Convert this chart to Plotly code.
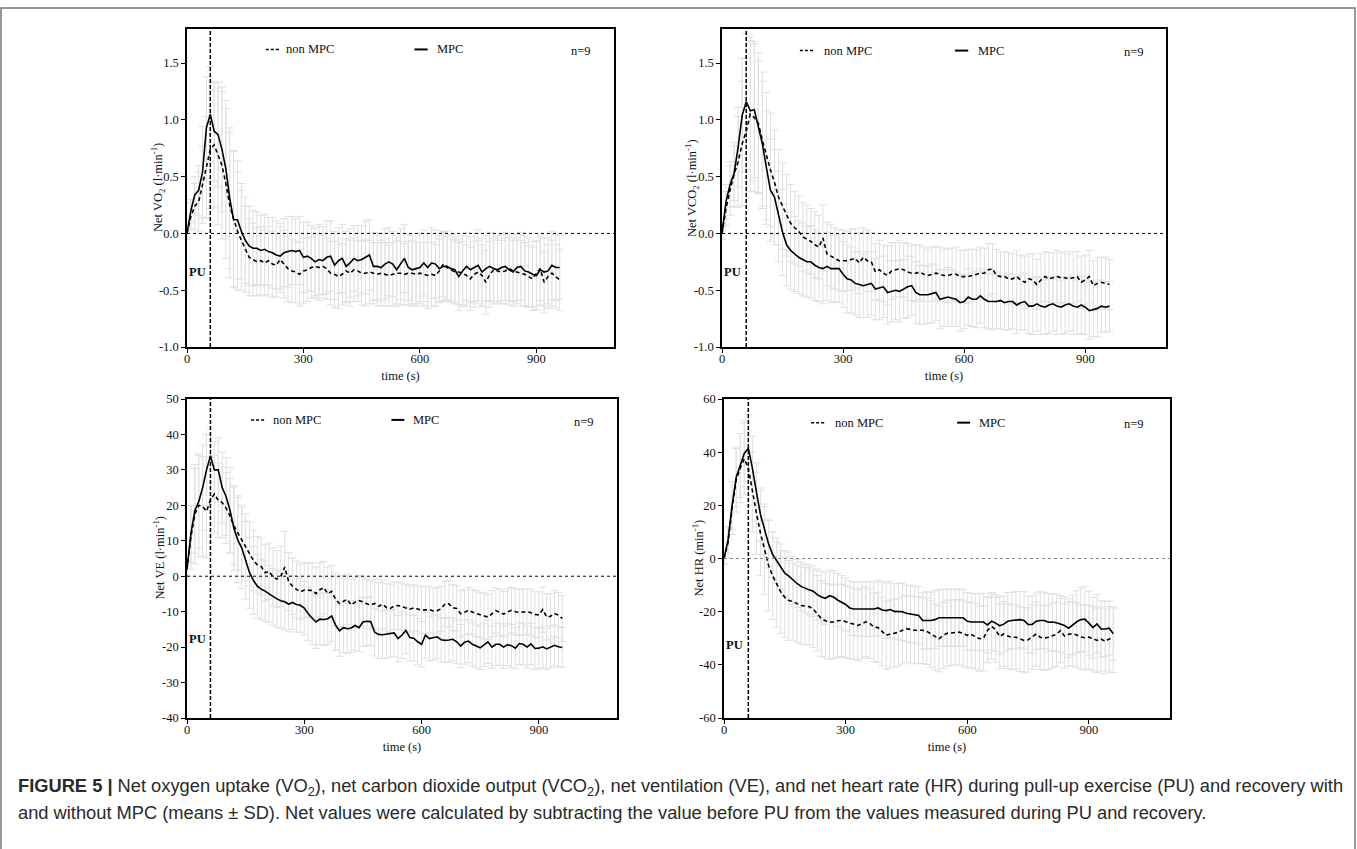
import plotly.graph_objects as go

# ---------------- data ----------------
time_s = list(range(0, 961, 10))

vo2_mpc = [0.00,0.20,0.34,0.38,0.54,0.93,1.05,0.90,0.87,0.74,
           0.57,0.31,0.12,0.12,0.02,-0.06,-0.11,-0.13,-0.13,-0.15,
           -0.14,-0.16,-0.17,-0.19,-0.20,-0.17,-0.16,-0.15,-0.16,-0.15,
           -0.21,-0.20,-0.22,-0.25,-0.23,-0.24,-0.21,-0.20,-0.28,-0.24,
           -0.22,-0.29,-0.26,-0.22,-0.24,-0.23,-0.21,-0.19,-0.29,-0.29,
           -0.30,-0.27,-0.25,-0.27,-0.32,-0.27,-0.22,-0.30,-0.32,-0.31,
           -0.30,-0.26,-0.30,-0.26,-0.27,-0.31,-0.29,-0.29,-0.31,-0.32,
           -0.38,-0.33,-0.29,-0.32,-0.30,-0.28,-0.34,-0.31,-0.29,-0.31,
           -0.32,-0.30,-0.29,-0.32,-0.34,-0.30,-0.29,-0.33,-0.34,-0.36,
           -0.37,-0.32,-0.34,-0.33,-0.28,-0.30,-0.30]
vo2_non = [0.00,0.15,0.24,0.28,0.43,0.58,0.74,0.78,0.68,0.60,
           0.44,0.25,0.13,0.02,-0.06,-0.14,-0.21,-0.23,-0.25,-0.24,
           -0.26,-0.24,-0.27,-0.28,-0.23,-0.27,-0.31,-0.33,-0.34,-0.36,
           -0.33,-0.32,-0.30,-0.29,-0.30,-0.29,-0.31,-0.35,-0.36,-0.38,
           -0.36,-0.33,-0.35,-0.32,-0.33,-0.35,-0.35,-0.34,-0.35,-0.36,
           -0.35,-0.36,-0.37,-0.36,-0.35,-0.35,-0.36,-0.35,-0.35,-0.36,
           -0.35,-0.36,-0.37,-0.36,-0.37,-0.33,-0.27,-0.30,-0.32,-0.34,
           -0.34,-0.35,-0.37,-0.40,-0.36,-0.34,-0.37,-0.43,-0.36,-0.32,
           -0.33,-0.34,-0.33,-0.31,-0.33,-0.34,-0.35,-0.36,-0.38,-0.40,
           -0.35,-0.31,-0.43,-0.38,-0.35,-0.38,-0.41]
vo2_mpc_sd = [0.04,0.10,0.16,0.22,0.40,0.45,0.42,0.44,0.46,0.55,
              0.60,0.62,0.60,0.52,0.42,0.38,0.35,0.33,0.32,0.31,
              0.31,0.30,0.31,0.30,0.29,0.30,0.31,0.30,0.29,0.30,
              0.31,0.30,0.29,0.30,0.31,0.30,0.32,0.31,0.30,0.29,
              0.30,0.31,0.30,0.29,0.31,0.30,0.32,0.31,0.30,0.29,
              0.30,0.31,0.30,0.29,0.30,0.31,0.30,0.29,0.30,0.31,
              0.30,0.29,0.30,0.31,0.30,0.29,0.30,0.31,0.30,0.29,
              0.30,0.31,0.30,0.29,0.30,0.31,0.30,0.29,0.30,0.31,
              0.30,0.29,0.30,0.31,0.30,0.29,0.30,0.31,0.30,0.29,
              0.30,0.31,0.30,0.29,0.30,0.29,0.28]
vo2_non_sd = [0.05,0.12,0.20,0.26,0.34,0.45,0.52,0.55,0.60,0.65,
              0.66,0.64,0.60,0.52,0.44,0.38,0.34,0.32,0.30,0.30,
              0.29,0.30,0.29,0.28,0.29,0.30,0.29,0.28,0.27,0.28,
              0.29,0.28,0.27,0.28,0.29,0.28,0.27,0.28,0.29,0.28,
              0.27,0.28,0.29,0.28,0.27,0.28,0.29,0.28,0.27,0.28,
              0.29,0.28,0.27,0.28,0.29,0.28,0.27,0.28,0.29,0.28,
              0.27,0.28,0.29,0.28,0.27,0.28,0.29,0.28,0.27,0.28,
              0.29,0.28,0.27,0.28,0.29,0.28,0.27,0.28,0.29,0.28,
              0.27,0.28,0.29,0.28,0.27,0.28,0.29,0.28,0.27,0.28,
              0.29,0.28,0.27,0.28,0.29,0.28,0.27]

vco2_mpc = [0.00,0.28,0.43,0.53,0.76,1.04,1.16,1.08,1.09,0.94,
            0.79,0.58,0.38,0.32,0.15,0.01,-0.10,-0.15,-0.18,-0.21,
            -0.23,-0.25,-0.25,-0.28,-0.30,-0.31,-0.29,-0.31,-0.31,-0.31,
            -0.36,-0.40,-0.41,-0.44,-0.45,-0.46,-0.45,-0.44,-0.49,-0.48,
            -0.47,-0.52,-0.51,-0.50,-0.51,-0.49,-0.47,-0.46,-0.52,-0.54,
            -0.54,-0.54,-0.53,-0.52,-0.58,-0.57,-0.56,-0.57,-0.58,-0.61,
            -0.60,-0.56,-0.58,-0.58,-0.55,-0.58,-0.60,-0.60,-0.60,-0.59,
            -0.61,-0.60,-0.60,-0.63,-0.61,-0.60,-0.64,-0.64,-0.62,-0.64,
            -0.65,-0.63,-0.62,-0.64,-0.65,-0.63,-0.62,-0.64,-0.65,-0.63,
            -0.65,-0.68,-0.67,-0.66,-0.64,-0.65,-0.64]
vco2_non = [0.00,0.22,0.38,0.52,0.63,0.79,0.90,1.05,1.02,0.97,
            0.82,0.68,0.56,0.45,0.32,0.24,0.16,0.09,0.05,0.02,
            -0.03,-0.05,-0.07,-0.10,-0.12,-0.04,-0.18,-0.20,-0.22,-0.24,
            -0.24,-0.24,-0.23,-0.22,-0.26,-0.21,-0.24,-0.25,-0.34,-0.32,
            -0.35,-0.37,-0.33,-0.32,-0.31,-0.32,-0.34,-0.35,-0.35,-0.34,
            -0.36,-0.37,-0.36,-0.35,-0.36,-0.37,-0.37,-0.36,-0.36,-0.38,
            -0.38,-0.38,-0.37,-0.36,-0.35,-0.35,-0.32,-0.31,-0.37,-0.38,
            -0.38,-0.40,-0.40,-0.38,-0.41,-0.43,-0.40,-0.41,-0.45,-0.41,
            -0.38,-0.40,-0.39,-0.38,-0.39,-0.39,-0.40,-0.39,-0.38,-0.43,
            -0.41,-0.38,-0.46,-0.44,-0.43,-0.44,-0.45]
vco2_mpc_sd = [0.05,0.15,0.20,0.24,0.35,0.50,0.60,0.62,0.60,0.58,
               0.55,0.50,0.45,0.42,0.40,0.38,0.36,0.34,0.33,0.32,
               0.32,0.31,0.32,0.31,0.30,0.31,0.30,0.30,0.29,0.30,
               0.29,0.30,0.29,0.28,0.29,0.28,0.29,0.28,0.27,0.28,
               0.27,0.28,0.27,0.26,0.27,0.26,0.27,0.26,0.27,0.26,
               0.26,0.25,0.26,0.25,0.26,0.25,0.26,0.25,0.24,0.25,
               0.24,0.25,0.24,0.25,0.24,0.25,0.24,0.25,0.24,0.25,
               0.24,0.25,0.24,0.25,0.24,0.25,0.24,0.25,0.24,0.25,
               0.24,0.25,0.24,0.25,0.24,0.25,0.24,0.25,0.24,0.25,
               0.24,0.25,0.24,0.25,0.23,0.22,0.22]
vco2_non_sd = [0.05,0.15,0.22,0.28,0.40,0.55,0.65,0.68,0.65,0.62,
               0.60,0.56,0.50,0.46,0.42,0.38,0.36,0.34,0.32,0.31,
               0.30,0.30,0.29,0.29,0.28,0.29,0.28,0.28,0.27,0.27,
               0.27,0.26,0.27,0.26,0.27,0.26,0.27,0.26,0.25,0.26,
               0.25,0.26,0.25,0.24,0.25,0.24,0.25,0.24,0.25,0.24,
               0.24,0.23,0.24,0.23,0.24,0.23,0.24,0.23,0.24,0.23,
               0.23,0.24,0.23,0.22,0.23,0.22,0.23,0.22,0.23,0.22,
               0.22,0.23,0.22,0.23,0.22,0.23,0.22,0.23,0.22,0.23,
               0.22,0.23,0.22,0.23,0.22,0.23,0.22,0.23,0.22,0.23,
               0.22,0.23,0.22,0.23,0.22,0.23,0.22]

ve_mpc = [2.0,12.0,18.5,21.0,25.0,30.0,34.0,30.0,30.0,25.0,
          22.5,18.6,13.5,10.2,8.0,4.5,1.0,-1.2,-2.8,-3.7,
          -4.2,-5.0,-5.8,-6.4,-6.9,-7.2,-7.9,-7.4,-8.0,-8.2,
          -9.0,-10.6,-11.8,-12.9,-12.1,-12.2,-12.0,-11.2,-13.8,-15.4,
          -14.5,-14.8,-14.6,-13.9,-14.5,-12.9,-12.7,-12.8,-15.8,-16.4,
          -16.5,-16.3,-16.2,-16.0,-17.6,-16.6,-15.3,-17.3,-17.5,-18.5,
          -19.2,-16.6,-17.6,-17.3,-17.1,-17.9,-18.1,-18.0,-17.8,-18.5,
          -19.7,-18.6,-18.3,-19.2,-19.8,-20.2,-19.4,-18.5,-20.0,-19.2,
          -19.2,-20.0,-19.3,-19.6,-20.3,-19.0,-19.2,-20.0,-19.1,-20.4,
          -20.3,-19.9,-20.5,-20.0,-19.5,-19.9,-20.1]
ve_non = [2.0,11.0,17.5,20.0,19.7,18.3,21.5,23.2,21.4,20.8,
          19.2,17.0,14.2,12.2,10.0,8.2,6.3,4.4,3.2,2.7,
          1.0,1.4,-0.2,-0.8,0.0,2.6,-1.5,-2.8,-3.7,-4.4,
          -3.9,-3.9,-4.0,-4.9,-3.8,-3.2,-4.9,-4.3,-6.5,-7.7,
          -7.0,-6.5,-8.1,-7.3,-6.9,-7.2,-7.8,-8.1,-7.7,-8.5,
          -7.9,-8.8,-9.1,-8.4,-8.3,-8.5,-9.0,-9.3,-8.9,-9.2,
          -9.6,-9.5,-9.4,-9.8,-9.7,-9.2,-7.8,-7.8,-8.9,-9.1,
          -10.6,-10.2,-9.6,-10.1,-10.6,-10.9,-11.2,-11.5,-10.6,-9.7,
          -10.2,-10.7,-10.1,-9.6,-10.0,-10.2,-10.1,-10.0,-10.3,-10.8,
          -10.9,-9.4,-11.5,-11.3,-10.5,-11.0,-11.9]
ve_mpc_sd = [2.0,8.0,12.0,13.0,12.0,10.0,7.5,8.0,9.0,10.0,
             11.0,12.0,12.0,12.0,11.5,11.0,10.0,9.5,9.0,8.5,
             8.5,8.0,8.0,8.0,7.8,8.0,7.8,7.6,7.8,7.6,
             7.5,7.6,7.4,7.5,7.3,7.4,7.2,7.3,7.1,7.2,
             7.0,7.1,6.9,7.0,6.8,6.9,6.8,6.9,6.7,6.8,
             6.7,6.8,6.6,6.7,6.5,6.6,6.5,6.6,6.4,6.5,
             6.4,6.5,6.3,6.4,6.2,6.3,6.2,6.3,6.1,6.2,
             6.1,6.2,6.0,6.1,6.0,6.1,6.0,6.1,5.9,6.0,
             5.9,6.0,5.9,6.0,5.8,5.9,5.8,5.9,5.8,5.9,
             5.8,5.9,5.8,5.9,5.8,5.7,5.6]
ve_non_sd = [2.0,9.0,14.0,14.5,14.0,13.0,12.0,11.0,10.5,10.0,
             10.0,10.5,11.0,10.5,10.0,9.5,9.0,8.5,8.0,8.0,
             8.0,8.0,8.2,8.0,8.5,10.0,8.2,8.0,8.0,7.8,
             7.8,7.6,7.7,7.5,7.6,7.4,7.5,7.3,7.4,7.2,
             7.3,7.1,7.2,7.0,7.1,6.9,7.0,6.8,6.9,6.7,
             6.8,6.7,6.8,6.6,6.7,6.6,6.7,6.5,6.6,6.5,
             6.6,6.5,6.6,6.4,6.5,6.4,6.5,6.4,6.5,6.4,
             6.5,6.4,6.5,6.4,6.5,6.4,6.5,6.4,6.5,6.4,
             6.5,6.4,6.5,6.4,6.5,6.4,6.5,6.4,6.5,6.4,
             6.5,6.4,6.5,6.4,6.5,6.4,6.5]

hr_mpc = [0.0,7.0,20.0,30.5,35.0,39.5,41.5,34.0,25.0,16.5,
          11.0,5.5,1.5,-0.8,-3.0,-5.5,-6.6,-8.2,-9.4,-10.5,
          -11.3,-11.8,-12.3,-13.6,-14.5,-15.0,-14.0,-14.5,-15.6,-16.4,
          -17.3,-18.6,-19.0,-19.0,-19.0,-19.0,-19.0,-19.0,-18.6,-19.4,
          -19.6,-19.2,-19.9,-20.0,-20.0,-20.6,-20.9,-21.1,-21.4,-23.3,
          -23.3,-23.3,-23.0,-22.3,-22.3,-22.3,-22.3,-22.3,-22.3,-22.3,
          -23.6,-23.9,-23.9,-23.9,-23.9,-25.0,-23.6,-24.3,-25.3,-24.7,
          -23.6,-23.3,-23.2,-23.0,-23.3,-24.8,-24.8,-23.6,-23.3,-23.3,
          -24.0,-23.9,-24.2,-24.6,-25.2,-26.2,-25.0,-23.8,-23.0,-22.8,
          -24.3,-26.0,-24.6,-26.5,-26.5,-26.2,-28.3]
hr_non = [0.0,6.0,19.0,29.5,34.0,37.5,34.0,25.0,17.0,9.5,
          3.0,-2.7,-6.5,-9.8,-12.6,-14.6,-15.8,-16.2,-17.0,-17.7,
          -17.9,-18.1,-19.0,-20.6,-22.6,-23.4,-23.9,-23.9,-23.4,-23.3,
          -23.8,-24.2,-24.6,-25.2,-24.5,-23.8,-24.5,-25.8,-26.0,-27.5,
          -28.9,-28.4,-28.0,-27.8,-27.0,-26.4,-26.7,-27.0,-27.0,-27.0,
          -27.4,-28.4,-29.5,-30.2,-29.0,-28.1,-28.0,-27.8,-27.7,-28.2,
          -28.9,-28.6,-29.3,-30.2,-30.0,-27.0,-25.6,-26.8,-29.3,-28.4,
          -29.2,-29.6,-29.6,-30.3,-30.8,-30.6,-29.5,-28.4,-29.6,-30.0,
          -29.6,-29.1,-28.5,-27.1,-29.2,-28.5,-28.3,-28.8,-29.5,-29.8,
          -29.6,-30.2,-30.8,-30.3,-31.2,-30.2,-30.8]
hr_mpc_sd = [2.0,5.0,9.0,11.0,12.0,12.5,12.5,12.0,11.0,10.0,
             9.5,9.0,8.5,8.5,8.5,8.5,9.0,9.0,9.0,9.2,
             9.2,9.4,9.5,9.6,9.8,9.8,9.6,9.8,10.0,10.0,
             10.0,10.2,10.0,10.2,10.4,10.2,10.4,10.2,10.4,10.6,
             10.4,10.6,10.4,10.6,10.8,10.6,10.8,10.6,10.8,10.6,
             10.8,10.6,10.8,10.6,10.8,10.6,10.8,10.6,10.8,10.6,
             10.8,10.6,10.8,10.6,10.8,10.6,10.8,10.6,10.8,10.6,
             10.8,10.6,10.8,10.6,10.8,10.6,10.8,10.6,10.8,10.6,
             10.8,10.6,10.8,10.6,10.8,11.0,11.2,11.6,12.0,12.4,
             12.0,11.4,11.0,10.6,10.4,10.2,10.0]
hr_non_sd = [2.0,6.0,10.0,12.0,13.0,13.5,14.0,15.0,15.5,16.0,
             16.5,17.0,16.5,16.0,15.5,15.0,15.0,14.5,14.5,14.5,
             14.5,14.5,14.5,14.2,14.2,14.0,14.0,13.8,13.8,13.6,
             13.6,13.5,13.4,13.3,13.2,13.2,13.1,13.0,13.0,12.9,
             12.8,12.8,12.8,12.7,12.7,12.6,12.6,12.6,12.5,12.5,
             12.5,12.5,12.4,12.4,12.4,12.4,12.4,12.3,12.3,12.3,
             12.3,12.3,12.3,12.2,12.2,12.2,12.2,12.2,12.2,12.2,
             12.2,12.2,12.2,12.2,12.2,12.1,12.1,12.1,12.1,12.1,
             12.1,12.1,12.1,12.1,12.1,12.1,12.1,12.1,12.1,12.1,
             12.1,12.1,12.1,12.1,12.1,12.1,12.1]

x_ticks = [0, 300, 600, 900]
x_ticktext = ["0", "300", "600", "900"]
y_titles = ["Net VO<sub>2</sub> (l·min<sup>-1</sup>)",
            "Net VCO<sub>2</sub> (l·min<sup>-1</sup>)",
            "Net VE (l·min<sup>-1</sup>)",
            "Net HR (min<sup>-1</sup>)"]
y_ranges = [[-1.0, 1.8], [-1.0, 1.8], [-40, 50], [-60, 60]]
y_tickvals = [[-1.0, -0.5, 0.0, 0.5, 1.0, 1.5],
              [-1.0, -0.5, 0.0, 0.5, 1.0, 1.5],
              [-40, -30, -20, -10, 0, 10, 20, 30, 40, 50],
              [-60, -40, -20, 0, 20, 40, 60]]
y_ticktext = [["-1.0", "-0.5", "0.0", "0.5", "1.0", "1.5"],
              ["-1.0", "-0.5", "0.0", "0.5", "1.0", "1.5"],
              ["-40", "-30", "-20", "-10", "0", "10", "20", "30", "40", "50"],
              ["-60", "-40", "-20", "0", "20", "40", "60"]]
series_names = ["non MPC", "MPC"]
pu_onset = 60
caption_1 = ("<b>FIGURE 5 |</b> Net oxygen uptake (VO<sub>2</sub>), net carbon dioxide output "
             "(VCO<sub>2</sub>), net ventilation (VE), and net heart rate (HR) during pull-up "
             "exercise (PU) and recovery with")
caption_2 = ("and without MPC (means ± SD). Net values were calculated by subtracting the value "
             "before PU from the values measured during PU and recovery.")

panels = [
    (vo2_non, vo2_non_sd, vo2_mpc, vo2_mpc_sd),
    (vco2_non, vco2_non_sd, vco2_mpc, vco2_mpc_sd),
    (ve_non, ve_non_sd, ve_mpc, ve_mpc_sd),
    (hr_non, hr_non_sd, hr_mpc, hr_mpc_sd),
]

# ---------------- layout geometry (pixels) ----------------
W, H = 1357, 849
boxes = [(187, 614, 29, 347), (722, 1166, 29, 347),
         (187, 617, 399, 718), (724, 1170, 399, 718)]
ytitle_x = [158, 692, 158, 697]
# legend / label positions in data units
legend_pos = [
    (203, 237, 250, 586, 620, 638, 1.62, 1046, 1.61, -0.34),
    (193, 226, 248, 577, 610, 629, 1.61, 1050, 1.60, -0.34),
    (164, 200, 215, 523, 556, 574, 44.1, 1046, 43.5, -17.8),
    (215, 252, 269, 575, 607, 624, 51.1, 1040, 50.6, -32.7),
]

SERIF = "Liberation Serif"
fig = go.Figure()
shapes = []
annotations = []

for i, (non, non_sd, mpc, mpc_sd) in enumerate(panels):
    k = "" if i == 0 else str(i + 1)
    xa, ya = "x" + k, "y" + k
    for m, s in ((non, non_sd), (mpc, mpc_sd)):
        fig.add_trace(go.Scatter(
            x=time_s, y=m, mode="markers", xaxis=xa, yaxis=ya,
            marker=dict(size=1, color="rgba(0,0,0,0)"),
            error_y=dict(type="data", array=s, color="#e0e0e0", thickness=1, width=4),
            showlegend=False, hoverinfo="skip"))
    fig.add_trace(go.Scatter(x=time_s, y=non, mode="lines", xaxis=xa, yaxis=ya,
                             name=series_names[0], showlegend=False,
                             line=dict(color="black", width=1.6, dash="4px,3px")))
    fig.add_trace(go.Scatter(x=time_s, y=mpc, mode="lines", xaxis=xa, yaxis=ya,
                             name=series_names[1], showlegend=False,
                             line=dict(color="black", width=1.6)))

    x0, x1, yt, yb = boxes[i]
    common = dict(showline=True, linecolor="black", linewidth=1.5, mirror=True,
                  ticks="outside", ticklen=4, tickwidth=1.2, tickcolor="black",
                  showgrid=False, zeroline=False, automargin=False,
                  tickfont=dict(family=SERIF, size=12.5, color="#111"))
    fig.update_layout(**{
        "xaxis" + k: dict(domain=[x0 / W, x1 / W], anchor=ya, range=[0, 1100],
                          tickvals=x_ticks, ticktext=x_ticktext, ticklabelstandoff=-5,
                          title=dict(text="time (s)", standoff=6,
                                     font=dict(family=SERIF, size=12.5, color="#111")),
                          **common),
        "yaxis" + k: dict(domain=[1 - yb / H, 1 - yt / H], anchor=xa, range=y_ranges[i],
                          tickvals=y_tickvals[i], ticktext=y_ticktext[i],
                          **common),
    })
    annotations.append(dict(xref="paper", yref="paper", x=ytitle_x[i] / W,
                            y=1 - (yt + yb) / 2 / H, text=y_titles[i], textangle=-90,
                            showarrow=False, xanchor="center", yanchor="middle",
                            font=dict(family=SERIF, size=12.5, color="#111")))

    # zero reference line (dotted) and PU onset line (dashed)
    shapes.append(dict(type="line", xref=xa + " domain", yref=ya, x0=0, x1=1, y0=0, y1=0,
                       line=dict(color="#888" if i == 3 else "black", width=1, dash="dot")))
    shapes.append(dict(type="line", xref=xa, yref=ya + " domain", x0=pu_onset, x1=pu_onset,
                       y0=0, y1=1, line=dict(color="black", width=1.5, dash="4px,2px")))

    dx0, dx1, dtx, sx0, sx1, stx, ly, nx, ny, puy = legend_pos[i]
    shapes.append(dict(type="line", xref=xa, yref=ya, x0=dx0, x1=dx1, y0=ly, y1=ly,
                       line=dict(color="black", width=1.5, dash="3px,2px")))
    shapes.append(dict(type="line", xref=xa, yref=ya, x0=sx0, x1=sx1, y0=ly, y1=ly,
                       line=dict(color="black", width=2)))
    tf = dict(family=SERIF, size=12.5, color="#111")
    annotations += [
        dict(xref=xa, yref=ya, x=dtx, y=ly, text=series_names[0], showarrow=False,
             xanchor="left", yanchor="middle", font=tf),
        dict(xref=xa, yref=ya, x=stx, y=ly, text=series_names[1], showarrow=False,
             xanchor="left", yanchor="middle", font=tf),
        dict(xref=xa, yref=ya, x=nx, y=ny, text="n=9", showarrow=False,
             xanchor="right", yanchor="middle", font=tf),
        dict(xref=xa, yref=ya, x=53, y=puy, text="<b>PU</b>", showarrow=False,
             xanchor="right", yanchor="middle", font=tf),
    ]

# outer frame of the figure
shapes.append(dict(type="rect", xref="paper", yref="paper", x0=1 / W, x1=1355 / W,
                   y0=-0.05, y1=1 - 8 / H, line=dict(color="#777", width=1.5)))

capfont = dict(family="Liberation Sans", size=18.3, color="#2a2a2a")
annotations += [
    dict(xref="paper", yref="paper", x=16 / W, y=1 - 787 / H, text=caption_1,
         showarrow=False, xanchor="left", yanchor="middle", font=capfont),
    dict(xref="paper", yref="paper", x=16 / W, y=1 - 812 / H, text=caption_2,
         showarrow=False, xanchor="left", yanchor="middle", font=capfont),
]

fig.update_layout(width=W, height=H, margin=dict(l=0, r=0, t=0, b=0),
                  paper_bgcolor="white", plot_bgcolor="white", template="none",
                  shapes=shapes, annotations=annotations, showlegend=False)

fig.write_html("out.html", config={"displayModeBar": False},
               post_script="document.body.style.margin='0';document.body.style.overflow='hidden';")
